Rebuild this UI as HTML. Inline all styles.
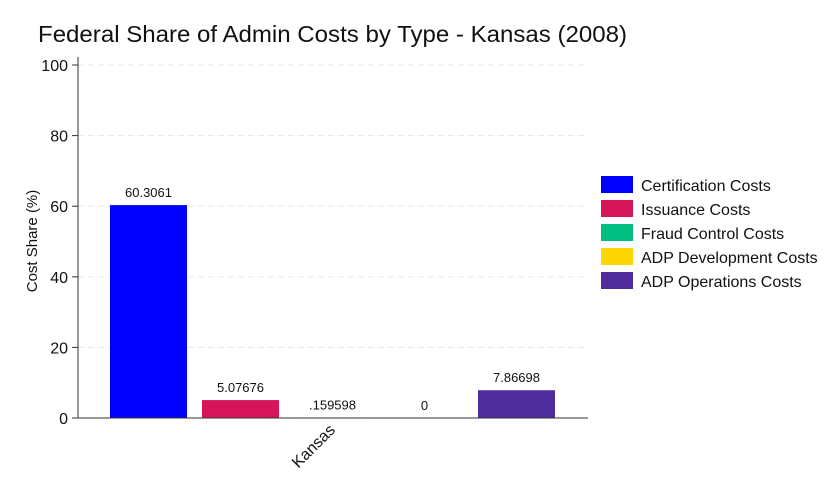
<!DOCTYPE html>
<html><head><meta charset="utf-8"><style>
body{margin:0;background:#fff;font-family:"Liberation Sans",Arial,sans-serif;}
</style></head><body>
<svg width="831" height="498" xmlns="http://www.w3.org/2000/svg" font-family="Liberation Sans, Arial, sans-serif">
<rect width="831" height="498" fill="#fff"/>
<text x="38" y="42" font-size="23" textLength="589" lengthAdjust="spacingAndGlyphs" fill="#111">Federal Share of Admin Costs by Type - Kansas (2008)</text>
<g id="grid"></g>
<g id="bars"></g>
<g id="axis"></g>
<g id="legend"></g>
</svg>
<script>
const categories = ["Certification Costs","Issuance Costs","Fraud Control Costs","ADP Development Costs","ADP Operations Costs"];
const values = [60.3061, 5.07676, 0.159598, 0, 7.86698];
const labels = ["60.3061","5.07676",".159598","0","7.86698"];
const colors = ["#0000ff","#d6145a","#00c081","#ffd700","#4f2d9c"];
const yTicks = [0,20,40,60,80,100];
const NS="http://www.w3.org/2000/svg";
const x0=78,x1=588,yB=418,yT=65;
const y=v=>yB-(v/100)*(yB-yT);
const bx=i=>110+i*92, bw=77;
function mk(t,a,p,txt){const e=document.createElementNS(NS,t);for(const k in a)e.setAttribute(k,a[k]);if(txt!==undefined)e.textContent=txt;p.appendChild(e);return e;}
const grid=document.getElementById('grid'),bars=document.getElementById('bars'),axis=document.getElementById('axis'),leg=document.getElementById('legend');
yTicks.forEach(t=>{
  if(t>0){const g=mk('line',{x1:x0,x2:x1,y1:y(t),y2:y(t),stroke:'#e8e8e8','stroke-dasharray':'6,4'},grid);
  
  }
  const tk=mk('line',{x1:x0-6,x2:x0,y1:y(t),y2:y(t),stroke:'#333'},axis);
  
  
  const tl=mk('text',{x:x0-10,y:y(t)+6,'font-size':16,'text-anchor':'end',fill:'#111'},axis,String(t));
  
  
});
values.forEach((v,i)=>{
  const h=Math.max(yB-y(v),0);
  const r=mk('rect',{x:bx(i),y:yB-h,width:bw,height:h,fill:colors[i]},bars);
  
  
  const t=mk('text',{x:bx(i)+bw/2,y:yB-h-8,'font-size':13,'text-anchor':'middle',fill:'#111'},bars,labels[i]);
  
  
});
const al=mk('line',{x1:x0,x2:x0,y1:yT-8,y2:yB,stroke:'#333'},axis);


const xl=mk('line',{x1:x0,x2:x1,y1:yB,y2:yB,stroke:'#333'},axis);


const yt=mk('text',{transform:'translate(37,241) rotate(-90)','font-size':15,'text-anchor':'middle',fill:'#111'},axis,'Cost Share (%)');


const kl=mk('text',{transform:'translate(336,431) rotate(-45)','font-size':16,'text-anchor':'end',fill:'#111'},axis,'Kansas');


categories.forEach((c,i)=>{
  const s=mk('rect',{x:601,y:176+i*24,width:32,height:17,fill:colors[i]},leg);
  
  
  const t=mk('text',{x:641,y:191+i*24,'font-size':16,fill:'#111'},leg,c);
  
  
});
</script>
</body></html>
